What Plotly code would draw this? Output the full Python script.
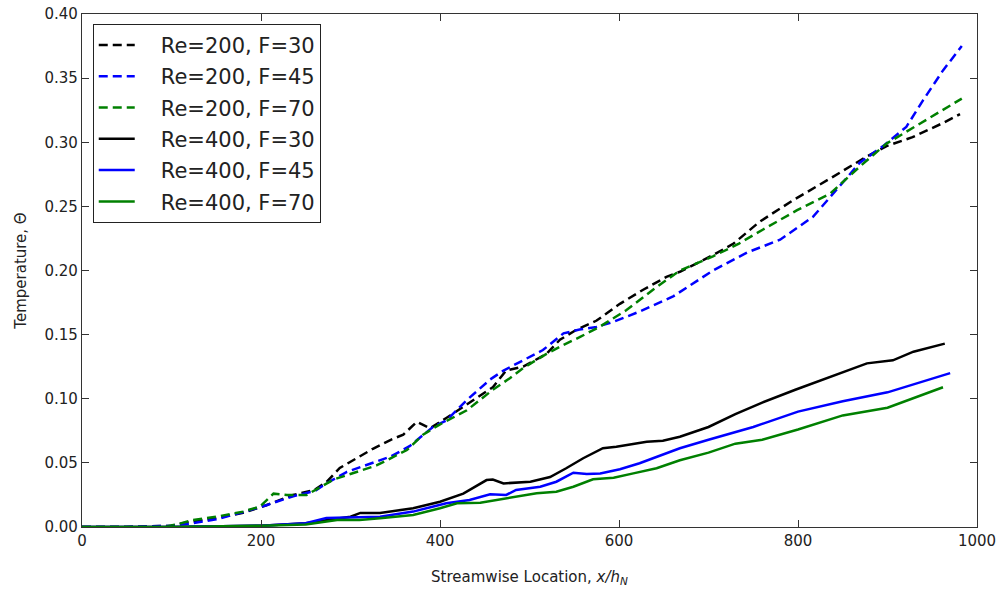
import plotly.graph_objects as go

# ---- data ----
x_re200_f30 = [0, 50, 100, 120, 150, 180, 206, 236, 260, 273, 288, 307, 325, 345, 359, 374, 389, 407, 437, 459, 474, 493, 519, 534, 553, 575, 601, 627, 653, 668, 705, 728, 757, 795, 839, 877, 899, 928, 962, 981]
y_re200_f30 = [0, 0, 0.001, 0.004, 0.007, 0.011, 0.017, 0.025, 0.029, 0.035, 0.046, 0.054, 0.061, 0.068, 0.072, 0.082, 0.077, 0.085, 0.099, 0.109, 0.122, 0.125, 0.135, 0.146, 0.154, 0.161, 0.174, 0.185, 0.195, 0.199, 0.212, 0.221, 0.238, 0.255, 0.273, 0.289, 0.297, 0.304, 0.315, 0.322]

x_re200_f45 = [0, 50, 100, 124, 150, 177, 206, 236, 260, 273, 296, 329, 345, 366, 392, 407, 430, 456, 471, 493, 515, 538, 556, 575, 594, 623, 661, 705, 743, 780, 817, 843, 869, 895, 921, 940, 962, 983]
y_re200_f45 = [0, 0, 0.001, 0.003, 0.006, 0.011, 0.017, 0.024, 0.028, 0.034, 0.043, 0.051, 0.055, 0.063, 0.078, 0.083, 0.099, 0.115, 0.122, 0.130, 0.138, 0.151, 0.154, 0.156, 0.160, 0.168, 0.180, 0.200, 0.214, 0.224, 0.242, 0.263, 0.284, 0.297, 0.312, 0.333, 0.356, 0.375]

x_re200_f70 = [0, 50, 90, 106, 124, 150, 180, 199, 214, 229, 251, 281, 329, 363, 381, 400, 430, 459, 478, 493, 519, 538, 556, 578, 608, 638, 668, 705, 734, 761, 799, 836, 869, 899, 928, 955, 983]
y_re200_f70 = [0, 0, 0, 0.002, 0.0055, 0.008, 0.012, 0.016, 0.026, 0.025, 0.025, 0.037, 0.048, 0.060, 0.072, 0.080, 0.091, 0.107, 0.116, 0.124, 0.135, 0.142, 0.148, 0.156, 0.169, 0.185, 0.200, 0.211, 0.221, 0.232, 0.247, 0.260, 0.281, 0.299, 0.311, 0.3225, 0.334]

x_re400_f30 = [0, 100, 200, 250, 280, 300, 311, 333, 370, 400, 426, 452, 459, 471, 501, 523, 541, 560, 582, 597, 631, 649, 668, 700, 730, 760, 797, 836, 877, 906, 929, 964]
y_re400_f30 = [0, 0, 0.001, 0.003, 0.006, 0.008, 0.011, 0.011, 0.0146, 0.0197, 0.026, 0.0366, 0.037, 0.034, 0.0353, 0.039, 0.0458, 0.0536, 0.0614, 0.0626, 0.0665, 0.0673, 0.0704, 0.078, 0.088, 0.097, 0.107, 0.117, 0.1276, 0.130, 0.1367, 0.143]

x_re400_f45 = [0, 100, 200, 250, 273, 300, 333, 370, 407, 433, 456, 474, 485, 512, 530, 549, 564, 579, 601, 623, 642, 668, 700, 750, 800, 850, 900, 970]
y_re400_f45 = [0, 0, 0.001, 0.003, 0.007, 0.0075, 0.008, 0.012, 0.0185, 0.021, 0.0255, 0.025, 0.0289, 0.0314, 0.0353, 0.0423, 0.0413, 0.0418, 0.045, 0.0497, 0.0548, 0.0614, 0.068, 0.078, 0.090, 0.098, 0.105, 0.120]

x_re400_f70 = [0, 100, 200, 250, 285, 310, 333, 370, 400, 419, 445, 474, 508, 530, 549, 571, 594, 616, 642, 668, 700, 730, 760, 800, 850, 900, 962]
y_re400_f70 = [0, 0, 0.001, 0.002, 0.0055, 0.0055, 0.0068, 0.0094, 0.0146, 0.0185, 0.019, 0.0224, 0.0263, 0.0275, 0.0314, 0.0372, 0.0384, 0.0418, 0.0458, 0.052, 0.058, 0.065, 0.068, 0.076, 0.087, 0.093, 0.109]

series_names = ["Re=200, F=30", "Re=200, F=45", "Re=200, F=70",
                "Re=400, F=30", "Re=400, F=45", "Re=400, F=70"]
series_x = [x_re200_f30, x_re200_f45, x_re200_f70, x_re400_f30, x_re400_f45, x_re400_f70]
series_y = [y_re200_f30, y_re200_f45, y_re200_f70, y_re400_f30, y_re400_f45, y_re400_f70]
colors = ["#000000", "#0000ff", "#008000", "#000000", "#0000ff", "#008000"]
dashes = ["9px,5px", "9px,5px", "9px,5px", "solid", "solid", "solid"]

fig = go.Figure()
for i in range(len(series_names)):
    fig.add_trace(go.Scatter(x=series_x[i], y=series_y[i],
                             name="\u2003" + series_names[i], mode="lines",
                             legendgroup=f"g{i}",
                             line=dict(color=colors[i], width=2.5, dash=dashes[i])))

font = "DejaVu Sans, sans-serif"
axis_common = dict(showline=True, linecolor="#333333", linewidth=1.2, mirror="ticks",
                   ticks="inside", ticklen=7, tickcolor="#333333", showgrid=False,
                   zeroline=False, automargin=False,
                   tickfont=dict(family=font, size=15, color="#222222"))

fig.update_layout(
    width=1000, height=592,
    margin=dict(l=82, r=23, t=14, b=65),
    paper_bgcolor="white", plot_bgcolor="white",
    xaxis=dict(range=[0, 1000], tickvals=[0, 200, 400, 600, 800, 1000],
               title=dict(text="Streamwise Location, <i>x/h<sub>N</sub></i>",
                          font=dict(family=font, size=15, color="#222222"), standoff=22),
               **axis_common),
    yaxis=dict(range=[0, 0.40], tickvals=[0, 0.05, 0.1, 0.15, 0.2, 0.25, 0.3, 0.35, 0.4],
               tickformat=".2f",
               title=dict(text="Temperature, Θ",
                          font=dict(family=font, size=15, color="#222222"), standoff=14),
               **axis_common),
    legend=dict(x=0.012, y=0.981, xanchor="left", yanchor="top",
                bgcolor="white", bordercolor="#222222", borderwidth=1,
                font=dict(family=font, size=21, color="#222222"),
                itemwidth=36, tracegroupgap=1),
    showlegend=True,
)

fig.write_html("out.html")
